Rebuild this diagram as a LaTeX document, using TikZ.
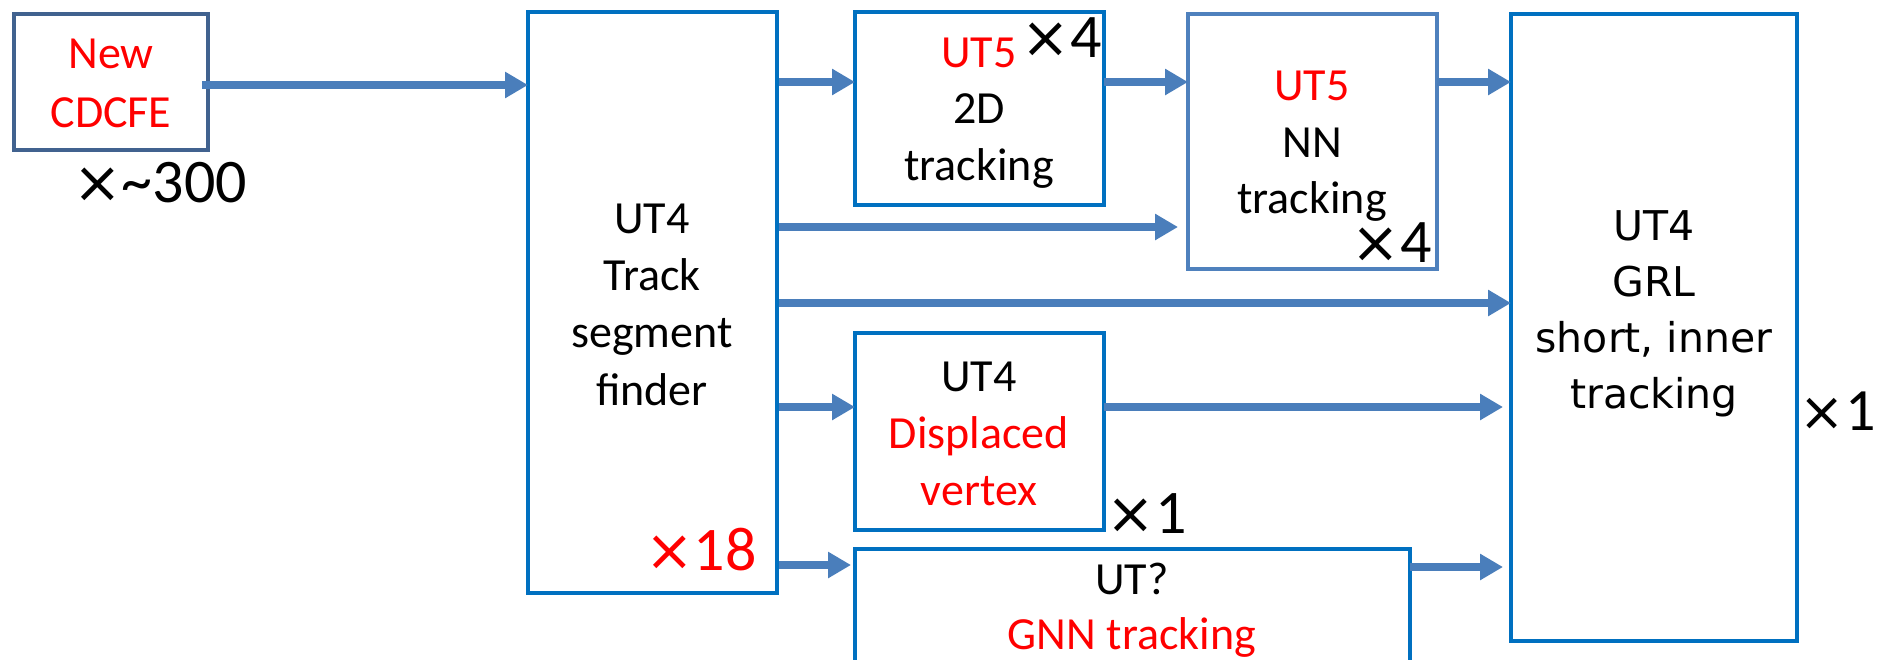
\documentclass[tikz,border=0pt]{standalone}
\usepackage{fontspec}
\setmainfont{Carlito}
\newfontfamily\mulfont{DejaVu Sans}
\usetikzlibrary{arrows.meta,fit}
\definecolor{bx}{HTML}{0070C0}
\definecolor{bxdark}{HTML}{41628F}
\definecolor{bxlight}{HTML}{4F81BD}
\definecolor{arr}{HTML}{4A7EBB}
\definecolor{rd}{HTML}{FF0000}
\newcommand\tms{{\mulfont\fontsize{29}{29}\selectfont ×}}
\newcommand\tmsb{{\mulfont\fontsize{27}{27}\selectfont ×}}
\begin{document}
\begin{tikzpicture}[x=0.5pt,y=-0.5pt,
  box/.style={draw=bx, line width=2.25pt, inner sep=0pt, outer sep=0pt},
  flow/.style={draw=arr, line width=3.75pt, -{Triangle[length=11.5pt,width=12.5pt]}},
  txt/.style={anchor=base, inner sep=0pt, font=\fontsize{23}{28}\selectfont},
  mul/.style={anchor=base, inner sep=0pt, font=\fontsize{31}{31}\selectfont},
  grl/.style={anchor=base, inner sep=0pt, font=\mulfont\fontsize{20.5}{28}\selectfont},
]
\clip (0,0) rectangle (1878,659);
\fill[white] (0,0) rectangle (1878,659);

% boxes
\node[box, draw=bxdark, fit={(14,14) (208,150)}] (cdc) {};
\node[box, fit={(528,12) (777,593)}] (tsf) {};
\node[box, fit={(855,12) (1104,205)}] (twod) {};
\node[box, draw=bxlight, fit={(1188,14) (1437,269)}] (nn) {};
\node[box, fit={(1511,14) (1797,641)}] (grl) {};
\node[box, fit={(855,333) (1104,530)}] (dv) {};
\node[box, fit={(855,549) (1410,700)}] (gnn) {};

% texts
\node[txt, text=rd] (t-new) at (111,68) {New};
\node[txt, text=rd] (t-cdc) at (111,127) {CDCFE};
\node[mul, anchor=base west] (m-300) at (73,202) {\tms\char`\~300};

\node[txt] (t-tsf1) at (652,233) {UT4};
\node[txt] (t-tsf2) at (652,290) {Track};
\node[txt] (t-tsf3) at (652,347) {segment};
\node[txt] (t-tsf4) at (652,405) {finder};
\node[mul, text=rd, anchor=base east] (m-18) at (757,570) {{\color{rd}\tms}18};

\node[txt, text=rd] (t-2d1) at (979,67) {UT5};
\node[mul, anchor=base east] (m-2d) at (1102,57) {\tms 4};
\node[txt] (t-2d2) at (979,123) {2D};
\node[txt] (t-2d3) at (979,180) {tracking};

\node[txt, text=rd] (t-nn1) at (1312,100) {UT5};
\node[txt] (t-nn2) at (1312,157) {NN};
\node[txt] (t-nn3) at (1312,213) {tracking};
\node[mul, anchor=base east] (m-nn) at (1432,262) {\tms 4};

\node[txt] (t-dv1) at (979,391) {UT4};
\node[txt, text=rd] (t-dv2) at (979,448) {Displaced};
\node[txt, text=rd] (t-dv3) at (979,505) {vertex};
\node[mul, anchor=base west] (m-dv) at (1106,533) {\tms 1};

\node[txt] (t-gnn1) at (1132,594) {UT?};
\node[txt, text=rd] (t-gnn2) at (1132,649) {GNN tracking};

\node[grl] (t-grl1) at (1654,240) {UT4};
\node[grl] (t-grl2) at (1654,296) {GRL};
\node[grl] (t-grl3) at (1654,352) {short, inner};
\node[grl] (t-grl4) at (1654,408) {tracking};
\node[mul, anchor=base east, font=\fontsize{30}{30}\selectfont] (m-grl) at (1876,430) {\tmsb 1};

% connector levels
\coordinate (y0) at (0,85);
\coordinate (y1) at (0,82);
\coordinate (y2) at (0,227);
\coordinate (y3) at (0,303);
\coordinate (y4) at (0,407);
\coordinate (y5) at (0,565);
\coordinate (y6) at (0,567);

\draw[flow] ([xshift=-3pt]cdc.east |- y0) -- (tsf.west |- y0);
\draw[flow] ([xshift=1pt]tsf.east |- y1) -- (twod.west |- y1);
\draw[flow] ([xshift=1pt]tsf.east |- y2) -- ([xshift=-5pt]nn.west |- y2);
\draw[flow] ([xshift=1pt]tsf.east |- y3) -- (grl.west |- y3);
\draw[flow] ([xshift=1pt]tsf.east |- y4) -- (dv.west |- y4);
\draw[flow] ([xshift=1pt]tsf.east |- y5) -- ([xshift=-2pt]gnn.west |- y5);
\draw[flow] (twod.east |- y1) -- (nn.west |- y1);
\draw[flow] (nn.east |- y1) -- (grl.west |- y1);
\draw[flow] (dv.east |- y4) -- ([xshift=-4pt]grl.west |- y4);
\draw[flow] (gnn.east |- y6) -- ([xshift=-4pt]grl.west |- y6);
\end{tikzpicture}
\end{document}
